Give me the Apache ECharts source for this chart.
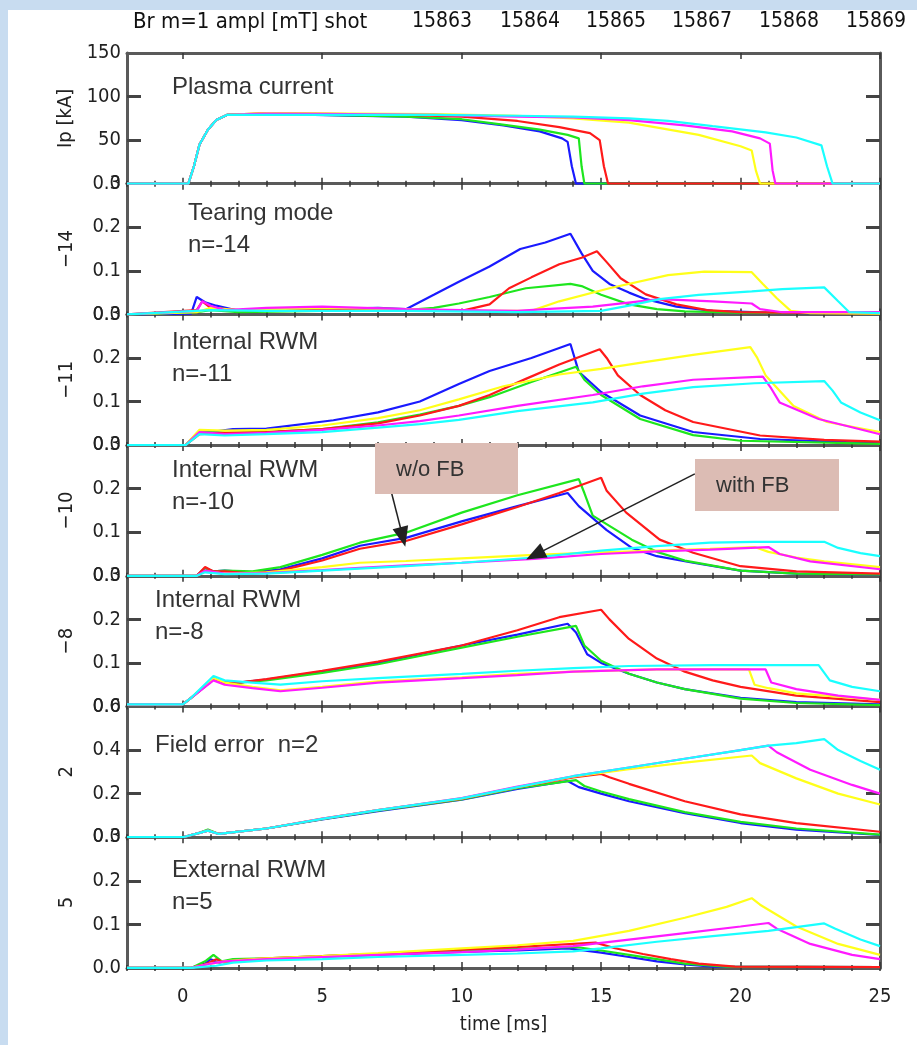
<!DOCTYPE html>
<html><head><meta charset="utf-8">
<script src="https://cdn.jsdelivr.net/npm/echarts@6/dist/echarts.min.js"></script>
<style>
html,body{margin:0;padding:0;background:#c8dcf0;width:917px;height:1045px;overflow:hidden}
#paper{position:absolute;left:8px;top:10px;width:909px;height:1035px;background:#fff}
#c{position:absolute;left:0;top:0;width:917px;height:1045px}
</style></head>
<body><div id="paper"></div><div id="c"></div>
<script>
// ---------- data ----------
const shots = ['15863','15864','15865','15867','15868','15869'];
const colors = ['#1a1aff','#1ee61e','#ff1a1a','#ffff1a','#ff1aff','#1affff'];
const xTickLabels = [0,5,10,15,20,25];
const panelNames = ['Ip [kA]','\u221214','\u221211','\u221210','\u22128','2','5'];

const ipCurves = [
 [[-2,0],[0.2,0],[0.4,20],[0.6,45],[0.9,62],[1.2,73],[1.6,79],[3,80],[6,78],[8,77],[10,73],[11.5,67],[12.8,60],[13.6,52],[13.8,48],[13.95,20],[14.1,0],[25,0]],
 [[-2,0],[0.2,0],[0.4,20],[0.6,45],[0.9,62],[1.2,73],[1.6,79],[3,80],[6,78.5],[8,77],[10,74],[11.4,68],[12.8,62],[13.8,56],[14.2,52],[14.3,20],[14.4,0],[25,0]],
 [[-2,0],[0.2,0],[0.4,20],[0.6,45],[0.9,62],[1.2,73],[1.6,79],[3,81],[6,80],[8,79],[10,77],[12,72],[13.5,65],[14.6,58],[14.95,50],[15.1,20],[15.25,0],[25,0]],
 [[-2,0],[0.2,0],[0.4,20],[0.6,45],[0.9,62],[1.2,73],[1.6,79],[3,81],[6,80.5],[9,80],[12,78],[14,75],[16,70],[18.5,56],[20,43],[20.4,38],[20.55,15],[20.7,0],[25,0]],
 [[-2,0],[0.2,0],[0.4,20],[0.6,45],[0.9,62],[1.2,73],[1.6,79],[3,80.5],[6,80],[9,79],[12,77],[14,76],[16,73],[18,67],[19.7,60],[20.7,52],[21.05,46],[21.15,15],[21.25,0],[25,0]],
 [[-2,0],[0.2,0],[0.4,20],[0.6,45],[0.9,62],[1.2,73],[1.6,79],[3,79],[6,79],[9,79],[12,78],[14,77],[16,75],[17.4,72],[19,66],[20.9,59],[22,53],[22.9,44],[23.1,20],[23.3,0],[25,0]]
];
const n14Curves = [
 [[-2,0],[0.3,0.002],[0.5,0.04],[0.8,0.028],[1.2,0.02],[2,0.008],[3,0.01],[5,0.012],[7,0.015],[8,0.012],[9,0.045],[9.9,0.075],[11,0.11],[12.1,0.15],[13,0.165],[13.9,0.185],[14.3,0.14],[14.7,0.1],[15.3,0.07],[16,0.05],[16.6,0.035],[17.7,0.018],[19,0.008],[21,0.004],[25,0.002]],
 [[-2,0],[0.5,0.005],[1,0.01],[2,0.005],[5,0.008],[8,0.01],[9,0.015],[9.9,0.025],[11,0.04],[12.3,0.06],[13.9,0.07],[14.3,0.065],[15,0.045],[16,0.023],[17,0.012],[18,0.007],[20,0.004],[25,0.003]],
 [[-2,0],[0.5,0.01],[0.7,0.03],[1,0.015],[2,0.01],[5,0.012],[8,0.008],[10,0.008],[11,0.023],[11.7,0.06],[12.5,0.085],[13.5,0.115],[14.3,0.13],[14.85,0.145],[15.2,0.12],[15.7,0.083],[16.6,0.046],[17.7,0.023],[18.8,0.01],[20,0.005],[25,0.002]],
 [[-2,0],[0.5,0.005],[1,0.015],[2,0.01],[5,0.015],[8,0.012],[10,0.008],[12.5,0.008],[13.5,0.03],[15.3,0.06],[17.4,0.09],[18.7,0.098],[20.4,0.097],[20.8,0.07],[21.3,0.037],[21.8,0.008],[22.5,0.003],[25,0.002]],
 [[-2,0],[0.5,0.008],[0.7,0.03],[1.0,0.02],[1.5,0.01],[3,0.015],[5,0.018],[8,0.012],[10,0.01],[12,0.008],[13,0.012],[14.7,0.018],[17.1,0.035],[19,0.03],[20.4,0.025],[20.7,0.012],[21.5,0.005],[25,0.005]],
 [[-2,0],[1,0.01],[3,0.008],[8,0.008],[12,0.005],[15,0.008],[16,0.02],[17.1,0.035],[18.5,0.045],[20.4,0.053],[21.5,0.058],[23,0.062],[23.5,0.03],[23.9,0.005],[25,0.003]]
];
const n11Curves = [
 [[-2,0],[0.1,0],[0.6,0.033],[1,0.03],[1.8,0.037],[3,0.038],[5.4,0.057],[7,0.075],[8.5,0.1],[9.9,0.14],[11,0.17],[12.5,0.2],[13.9,0.232],[14.2,0.168],[15,0.122],[16.4,0.068],[18.3,0.03],[20.7,0.014],[25,0.004]],
 [[-2,0],[0.1,0],[0.6,0.03],[1.5,0.028],[3,0.03],[5,0.037],[7,0.052],[8.5,0.07],[9.9,0.09],[11,0.11],[12.5,0.145],[14.1,0.18],[14.4,0.15],[15,0.115],[16.4,0.06],[18.3,0.023],[20,0.01],[25,0.003]],
 [[-2,0],[0.1,0],[0.6,0.025],[1.5,0.028],[3,0.03],[5,0.037],[7,0.05],[8.5,0.068],[9.9,0.09],[11,0.115],[12.3,0.152],[13.5,0.185],[14.95,0.22],[15.2,0.2],[15.6,0.16],[16.4,0.115],[17.3,0.08],[18.3,0.053],[20.7,0.022],[23,0.012],[25,0.008]],
 [[-2,0],[0.1,0],[0.6,0.035],[1.5,0.033],[3,0.035],[5,0.045],[7,0.062],[8.5,0.08],[9.9,0.105],[11.5,0.135],[13.5,0.162],[15,0.175],[16.5,0.19],[18.3,0.207],[20.35,0.225],[20.6,0.2],[20.9,0.16],[21.9,0.09],[23.1,0.053],[25,0.03]],
 [[-2,0],[0.1,0],[0.6,0.03],[1.5,0.025],[3,0.028],[5,0.035],[7,0.045],[8.5,0.055],[9.9,0.068],[12,0.09],[14.7,0.115],[16.5,0.135],[18.3,0.15],[20.8,0.157],[21.1,0.13],[21.4,0.098],[22.8,0.06],[25,0.025]],
 [[-2,0],[0.1,0],[0.6,0.025],[1.5,0.022],[3,0.025],[5,0.03],[7,0.04],[8.5,0.048],[9.9,0.058],[12,0.078],[14.7,0.098],[16.5,0.118],[18.3,0.133],[20.5,0.142],[23,0.147],[23.3,0.125],[23.6,0.098],[24.3,0.075],[25,0.057]]
];
const n10Curves = [
 [[-2,0],[0.5,0],[0.8,0.018],[1.1,0.01],[1.5,0.012],[2.5,0.008],[3.5,0.015],[5,0.04],[6.35,0.069],[8,0.087],[10,0.125],[12,0.16],[13.8,0.19],[14.2,0.16],[15.2,0.105],[16.1,0.064],[17,0.045],[18.3,0.03],[20,0.012],[22,0.005],[25,0.003]],
 [[-2,0],[0.5,0],[0.8,0.018],[1.1,0.01],[1.5,0.012],[2.5,0.01],[3.5,0.02],[5,0.048],[6.35,0.076],[8,0.099],[10,0.145],[12,0.185],[14.2,0.222],[14.4,0.19],[14.7,0.138],[16.1,0.083],[17,0.055],[18,0.035],[20,0.012],[22,0.005],[25,0.003]],
 [[-2,0],[0.5,0],[0.8,0.02],[1.1,0.01],[1.5,0.01],[2.5,0.005],[3.5,0.012],[5,0.035],[6.35,0.062],[8,0.08],[10,0.118],[12,0.158],[13.5,0.19],[15,0.225],[15.2,0.195],[15.9,0.145],[17.1,0.083],[18.3,0.053],[20,0.022],[22,0.01],[25,0.005]],
 [[-2,0],[0.5,0],[0.8,0.01],[1.5,0.005],[3,0.008],[5,0.02],[6.35,0.03],[8,0.034],[10,0.04],[12.6,0.048],[15,0.054],[17,0.058],[18.9,0.062],[20.5,0.066],[21,0.055],[22,0.042],[23,0.033],[25,0.02]],
 [[-2,0],[0.5,0],[0.8,0.012],[1.5,0.005],[3,0.006],[5,0.013],[6.35,0.018],[8,0.024],[10,0.03],[12.6,0.039],[15,0.05],[17,0.056],[18.9,0.06],[21,0.066],[21.4,0.05],[22.5,0.033],[25,0.015]],
 [[-2,0],[0.5,0],[0.8,0.008],[1.5,0.004],[3,0.005],[5,0.012],[8,0.022],[10,0.03],[12.6,0.042],[15,0.058],[17,0.068],[18.9,0.076],[20.5,0.078],[23,0.078],[23.5,0.064],[24.3,0.052],[25,0.045]]
];
const n8Curves = [
 [[-2,0.005],[0,0.005],[0.3,0.02],[1.1,0.065],[1.4,0.055],[2,0.055],[3,0.062],[5,0.08],[7,0.1],[10,0.14],[12,0.165],[13.8,0.19],[14.1,0.17],[14.5,0.12],[15,0.1],[16,0.075],[17,0.055],[18,0.04],[20,0.02],[22,0.01],[25,0.005]],
 [[-2,0.005],[0,0.005],[0.3,0.02],[1.1,0.062],[1.4,0.055],[2,0.055],[3,0.06],[5,0.077],[7,0.097],[10,0.135],[12,0.16],[14.1,0.185],[14.4,0.14],[15,0.105],[16,0.075],[17,0.055],[18,0.04],[20,0.018],[22,0.008],[25,0.003]],
 [[-2,0.005],[0,0.005],[0.3,0.02],[1.1,0.062],[1.4,0.055],[2,0.055],[3,0.063],[5,0.082],[7,0.103],[10,0.14],[12,0.175],[13.5,0.205],[15,0.222],[15.3,0.2],[16,0.155],[17,0.11],[18,0.08],[19,0.06],[20,0.045],[22,0.025],[25,0.01]],
 [[-2,0.005],[0,0.005],[0.3,0.02],[1.1,0.065],[1.5,0.055],[2.5,0.045],[3.5,0.037],[5,0.045],[7,0.058],[10,0.067],[12,0.075],[14,0.08],[17,0.085],[20.3,0.085],[20.5,0.05],[21,0.042],[22,0.03],[25,0.015]],
 [[-2,0.005],[0,0.005],[0.3,0.02],[1.1,0.06],[1.5,0.05],[2.5,0.042],[3.5,0.035],[5,0.043],[7,0.055],[10,0.065],[12,0.072],[14,0.08],[17,0.085],[20.9,0.085],[21.1,0.055],[22,0.04],[23.5,0.025],[25,0.015]],
 [[-2,0.005],[0,0.005],[0.3,0.02],[1.1,0.07],[1.5,0.06],[2.5,0.055],[3.5,0.05],[5,0.058],[7,0.065],[10,0.075],[12,0.082],[14,0.088],[16,0.093],[19,0.095],[22.8,0.095],[23.2,0.06],[24,0.045],[25,0.035]]
];
const n2Curves = [
 [[-2,0],[0,0],[0.6,0.02],[0.9,0.03],[1.3,0.015],[1.6,0.02],[3,0.04],[5,0.082],[7,0.12],[10,0.172],[12,0.222],[13.8,0.258],[14.2,0.23],[15,0.2],[16,0.165],[18,0.11],[20,0.065],[22,0.035],[25,0.01]],
 [[-2,0],[0,0],[0.6,0.02],[0.9,0.035],[1.3,0.015],[1.6,0.02],[3,0.04],[5,0.083],[7,0.122],[10,0.174],[12,0.225],[14.1,0.262],[14.4,0.235],[15,0.21],[16,0.175],[18,0.115],[20,0.07],[22,0.04],[25,0.012]],
 [[-2,0],[0,0],[0.6,0.02],[0.9,0.03],[1.3,0.015],[1.6,0.02],[3,0.04],[5,0.084],[7,0.124],[10,0.176],[12,0.228],[14,0.275],[15,0.29],[15.3,0.275],[16,0.245],[18,0.165],[20,0.105],[22,0.065],[25,0.025]],
 [[-2,0],[0,0],[0.6,0.02],[0.9,0.03],[1.3,0.015],[1.6,0.02],[3,0.04],[5,0.085],[7,0.125],[10,0.178],[12,0.23],[14,0.278],[16,0.312],[18,0.342],[20.4,0.375],[20.7,0.34],[22,0.27],[23.5,0.2],[25,0.15]],
 [[-2,0],[0,0],[0.6,0.02],[0.9,0.03],[1.3,0.015],[1.6,0.02],[3,0.04],[5,0.085],[7,0.125],[10,0.18],[12,0.232],[14,0.28],[16,0.32],[18,0.36],[20,0.4],[21,0.42],[21.3,0.39],[22.5,0.31],[24,0.24],[25,0.2]],
 [[-2,0],[0,0],[0.6,0.02],[0.9,0.03],[1.3,0.015],[1.6,0.02],[3,0.04],[5,0.084],[7,0.124],[10,0.178],[12,0.23],[14,0.28],[16,0.32],[18,0.36],[20,0.4],[21,0.42],[22,0.432],[23,0.45],[23.5,0.4],[24.3,0.35],[25,0.31]]
];
const n5Curves = [
 [[-2,0],[0.3,0],[0.8,0.01],[1,0.02],[1.3,0.012],[1.8,0.018],[3,0.02],[5,0.025],[7,0.03],[10,0.037],[12,0.04],[13.8,0.045],[15,0.035],[16,0.025],[17,0.015],[18,0.008],[19,0.003],[25,0.002]],
 [[-2,0],[0.3,0],[0.8,0.015],[1.1,0.03],[1.4,0.015],[1.8,0.02],[3,0.022],[5,0.027],[7,0.032],[10,0.04],[12,0.044],[14.1,0.048],[15,0.04],[16,0.03],[17,0.02],[18,0.01],[19.5,0.003],[25,0.002]],
 [[-2,0],[0.3,0],[0.8,0.008],[1.2,0.02],[1.5,0.012],[2,0.018],[3,0.022],[5,0.027],[7,0.032],[10,0.042],[12,0.048],[14.8,0.058],[15.5,0.045],[16.5,0.032],[17.5,0.02],[18.5,0.01],[19.8,0.003],[25,0.002]],
 [[-2,0],[0.3,0],[1,0.01],[1.5,0.015],[2,0.018],[3,0.022],[5,0.027],[7,0.034],[10,0.045],[12,0.052],[14,0.062],[16,0.085],[18,0.115],[19.5,0.14],[20.4,0.16],[20.7,0.145],[22,0.095],[23.5,0.055],[25,0.03]],
 [[-2,0],[0.3,0],[1,0.01],[1.5,0.015],[2,0.017],[3,0.02],[5,0.025],[7,0.03],[10,0.036],[12,0.042],[14,0.05],[16,0.065],[18,0.08],[20,0.095],[21,0.103],[21.3,0.09],[22.5,0.055],[24,0.03],[25,0.02]],
 [[-2,0],[0.3,0],[1.2,0.005],[1.8,0.012],[3,0.017],[5,0.02],[7,0.025],[10,0.03],[12,0.033],[14,0.038],[15,0.045],[17,0.06],[19,0.073],[21,0.085],[23,0.102],[23.4,0.09],[24.3,0.065],[25,0.05]]
];
const panelCurves = [ipCurves,n14Curves,n11Curves,n10Curves,n8Curves,n2Curves,n5Curves];
const panelMax = [150,0.3,0.3,0.3,0.3,0.6,0.3];
const panelLabels = [[0,50,100,150],[0,0.1,0.2,0.3],[0,0.1,0.2,0.3],[0,0.1,0.2,0.3],[0,0.1,0.2,0.3],[0,0.2,0.4,0.6],[0,0.1,0.2,0.3]];
const panelTicks = [[50,100],[0.1,0.2],[0.1,0.2],[0.1,0.2],[0.1,0.2],[0.2,0.4],[0.1,0.2]];
const panelText = [['Plasma current'],['Tearing mode','n=-14'],['Internal RWM','n=-11'],['Internal RWM','n=-10'],['Internal RWM','n=-8'],['Field error  n=2'],['External RWM','n=5']];
const titleText = 'Br m=1 ampl [mT] shot';
const fbArrows = [[[7.46,0.197],[7.89,0.089]],[[18.36,0.234],[12.63,0.048]]];
const fbLabels = ['w/o FB','with FB'];

// ---------- layout ----------
const W = 917, H = 1045;
const G_LEFT = 127, G_W = 753, G_TOP = 53, G_H = 130.7;
const NARROW = '"Liberation Sans Narrow","DejaVu Sans Condensed","Arial Narrow",sans-serif';
const SANS = '"Liberation Sans",Arial,Helvetica,sans-serif';
const FRAME = '#5a5a5a';
const minorX = []; for (let v = -2; v <= 25; v++) minorX.push(v);

const grids = [], xAxes = [], yAxes = [], series = [];
panelCurves.forEach((curves, k) => {
  grids.push({left: G_LEFT, top: G_TOP + k * G_H, width: G_W, height: G_H});
  const last = k === panelCurves.length - 1;
  ['bottom','top'].forEach(pos => {
    xAxes.push({gridIndex: k, type: 'value', min: -2, max: 25, position: pos,
      axisLine: {show: true, onZero: false, lineStyle: {color: FRAME, width: 3}},
      axisTick: {show: true, inside: true, length: 6, customValues: xTickLabels, lineStyle: {color: '#333', width: 1.5}},
      axisLabel: {show: last && pos === 'bottom', customValues: xTickLabels, margin: 19,
        fontFamily: NARROW, fontSize: 20, color: '#222'},
      splitLine: {show: false},
      name: (last && pos === 'bottom') ? 'time [ms]' : '', nameLocation: 'middle', nameGap: 47,
      nameTextStyle: {fontFamily: NARROW, fontSize: 20, color: '#222'}
    });
    xAxes.push({gridIndex: k, type: 'value', min: -2, max: 25, position: pos,
      axisLine: {show: false}, axisLabel: {show: false}, splitLine: {show: false},
      axisTick: {show: true, inside: true, length: 3, customValues: minorX, lineStyle: {color: '#333', width: 1.5}}
    });
  });
  const lbls = panelLabels[k];
  const fmt = v => k === 0 ? String(Math.round(v)) : Number(v).toFixed(1);
  ['left','right'].forEach(pos => {
    yAxes.push({gridIndex: k, type: 'value', min: 0, max: panelMax[k], position: pos,
      axisLine: {show: true, onZero: false, lineStyle: {color: FRAME, width: 3}},
      axisTick: {show: true, inside: true, length: 14, customValues: panelTicks[k], lineStyle: {color: '#444', width: 3}},
      axisLabel: {show: pos === 'left', customValues: lbls, formatter: fmt, margin: 6,
        fontFamily: NARROW, fontSize: 20, color: '#222'},
      splitLine: {show: false},
      name: pos === 'left' ? panelNames[k] : '', nameLocation: 'middle', nameRotate: 90, nameGap: 50,
      nameTextStyle: {fontFamily: NARROW, fontSize: 20, color: '#222'}
    });
  });
  curves.forEach((pts, s) => {
    const ser = {type: 'line', name: shots[s], xAxisIndex: 4 * k, yAxisIndex: 2 * k,
      data: pts, showSymbol: false, symbol: 'none', animation: false, silent: true,
      lineStyle: {color: colors[s], width: 2.2}, itemStyle: {color: colors[s]}, z: 2};
    if (k === 3 && s === 0) {
      ser.markLine = {silent: true, animation: false, symbol: ['none','triangle'], symbolSize: [16, 20],
        label: {show: false}, lineStyle: {color: '#222', width: 1.5, type: 'solid'},
        data: fbArrows.map(a => [{coord: a[0]}, {coord: a[1]}])};
    }
    series.push(ser);
  });
});

// ---------- graphics (titles, annotations) ----------
const graphics = [];
graphics.push({type: 'text', left: 133, top: 11, style: {text: titleText, font: '22px ' + NARROW, fill: '#111'}});
const shotX = [412, 500, 586, 672, 759, 846];
shots.forEach((s, i) => graphics.push({type: 'text', left: shotX[i], top: 11, style: {text: s, font: '21px ' + NARROW, fill: '#111'}}));
const textX = [172, 188, 172, 172, 155, 155, 172];
const textY0 = [87, 213, 342, 470, 600, 745, 870];
panelText.forEach((lines, k) => lines.forEach((t, j) => graphics.push({type: 'text', x: textX[k], y: textY0[k] + j * 32, z: 10,
  style: {text: t, font: '24px ' + SANS, fill: '#333', textVerticalAlign: 'middle'}})));
const boxes = [[375, 443, 143, 51], [695, 459, 144, 52]];
boxes.forEach((b, i) => {
  graphics.push({type: 'rect', shape: {x: b[0], y: b[1], width: b[2], height: b[3]}, z: 20, style: {fill: '#dcbcb4'}});
  graphics.push({type: 'text', x: b[0] + 21, y: b[1] + b[3] / 2 + 1, z: 21,
    style: {text: fbLabels[i], font: '22px ' + SANS, fill: '#333', textVerticalAlign: 'middle'}});
});

const chart = echarts.init(document.getElementById('c'), null, {renderer: 'canvas', width: W, height: H});
chart.setOption({
  backgroundColor: 'transparent', animation: false,
  grid: grids, xAxis: xAxes, yAxis: yAxes, series: series, graphic: graphics
});
</script></body></html>
